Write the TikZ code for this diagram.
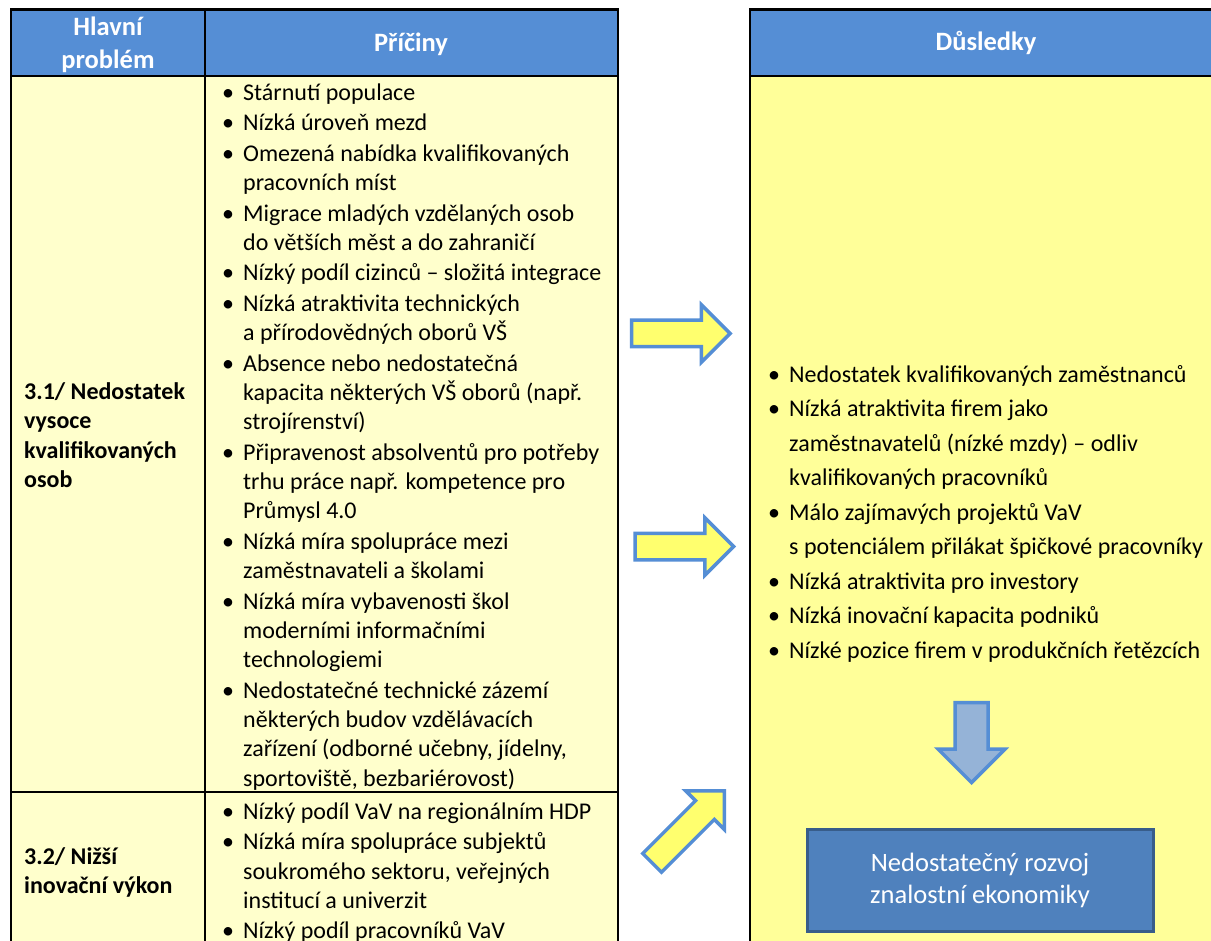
\documentclass[tikz,border=0pt]{standalone}
\usepackage{fontspec}
\setmainfont{Carlito}
\usepackage{xcolor}
\usepackage{tikz}
\usetikzlibrary{shapes.arrows}
\definecolor{headblue}{HTML}{558ED5}
\definecolor{paleyellow}{HTML}{FFFFCC}
\definecolor{effectyellow}{HTML}{FFFF99}
\definecolor{arrowyellow}{HTML}{FFFF6E}
\definecolor{steel}{HTML}{95B3D7}
\definecolor{boxblue}{HTML}{4F81BD}
\definecolor{boxline}{HTML}{385D8A}
\newcommand{\bitem}{\makebox[21pt][l]{\textbullet}}
\newcommand{\bcont}{\hspace*{21pt}}

\begin{document}
\begin{tikzpicture}[
  x=1pt,y=-1pt,
  tabline/.style={draw=black,line width=2.2pt},
  txt/.style={anchor=north west,inner sep=0pt,align=left,
    font=\fontsize{24}{29.3}\selectfont},
  prob/.style={txt,font=\fontsize{24}{29.5}\selectfont\bfseries},
  head/.style={text=white,align=center,inner sep=0pt,
    font=\fontsize{26.5}{33}\selectfont\bfseries},
  effect/.style={txt,font=\fontsize{24}{34.5}\selectfont},
  blockarr/.style={single arrow,draw=headblue,fill=arrowyellow,line width=3.5pt,
    inner sep=0pt,text height=23pt,text depth=0pt,minimum height=98.5pt,
    single arrow head extend=15.5pt,anchor=tip},
  downarr/.style={blockarr,fill=steel,text height=29.5pt,minimum height=80pt,
    single arrow head extend=17pt},
  outbox/.style={draw=boxline,fill=boxblue,line width=3pt,text=white,
    align=center,minimum width=346pt,minimum height=102pt,
    font=\fontsize{26.5}{32}\selectfont}
]
\path[use as bounding box,fill=white] (0,0) rectangle (1211,941);
% left table
\fill[paleyellow] (11,76) rectangle (618,960);
\fill[headblue] (11,9.5) rectangle (618,76);
\draw[tabline] (11,9.5) rectangle (618,960) (205,9.5) -- (205,960)
  (11,76) -- (618,76) (11,792) -- (618,792);
% right table
\fill[effectyellow] (750,76) rectangle (1222,960);
\fill[headblue] (750,9.5) rectangle (1222,76);
\draw[tabline] (750,9.5) rectangle (1222,960) (750,76) -- (1222,76);

\node[head] (hdProb) at (108,45) {Hlavní\\problém};
\node[head] (hdCause) at (411,44) {Příčiny};
\node[head] (hdEffect) at (986,42.5) {Důsledky};

\node[prob] (probA) at (24,378.3) {\strut 3.1/ Nedostatek\\vysoce\\kvalifikovaných\\osob};
\node[prob] (probB) at (24,843.3) {\strut 3.2/ Nižší\\inovační výkon};

\node[txt] (causesA) at (222,79.5) {\strut\bitem Stárnutí populace\\[1.2pt]
  \bitem Nízká úroveň mezd\\[1.2pt]
  \bitem Omezená nabídka kvalifikovaných\\
  \bcont pracovních míst\\[1.2pt]
  \bitem Migrace mladých vzdělaných osob\\
  \bcont do větších měst a do zahraničí\\[1.2pt]
  \bitem Nízký podíl cizinců – složitá integrace\\[1.2pt]
  \bitem Nízká atraktivita technických\\
  \bcont a přírodovědných oborů VŠ\\[1.2pt]
  \bitem Absence nebo nedostatečná\\
  \bcont kapacita některých VŠ oborů (např.\\
  \bcont strojírenství)\\[1.2pt]
  \bitem Připravenost absolventů pro potřeby\\
  \bcont trhu práce např. kompetence pro\\
  \bcont Průmysl 4.0\\[1.2pt]
  \bitem Nízká míra spolupráce mezi\\
  \bcont zaměstnavateli a školami\\[1.2pt]
  \bitem Nízká míra vybavenosti škol\\
  \bcont moderními informačními\\
  \bcont technologiemi\\[1.2pt]
  \bitem Nedostatečné technické zázemí\\
  \bcont některých budov vzdělávacích\\
  \bcont zařízení (odborné učebny, jídelny,\\
  \bcont sportoviště, bezbariérovost)};
\node[txt] (causesB) at (222,798.5) {\strut\bitem Nízký podíl VaV na regionálním HDP\\[1.2pt]
  \bitem Nízká míra spolupráce subjektů\\
  \bcont soukromého sektoru, veřejných\\
  \bcont institucí a univerzit\\[1.2pt]
  \bitem Nízký podíl pracovníků VaV};

\node[effect] (effects) at (768,358) {\strut\bitem Nedostatek kvalifikovaných zaměstnanců\\
  \bitem Nízká atraktivita firem jako\\
  \bcont zaměstnavatelů (nízké mzdy) – odliv\\
  \bcont kvalifikovaných pracovníků\\
  \bitem Málo zajímavých projektů VaV\\
  \bcont s potenciálem přilákat špičkové pracovníky\\
  \bitem Nízká atraktivita pro investory\\
  \bitem Nízká inovační kapacita podniků\\
  \bitem Nízké pozice firem v produkčních řetězcích};

\node[blockarr] (arrA) at (732.5,333.5) {};
\node[blockarr] (arrB) at (736,546.5) {};
\node[blockarr,rotate=45,minimum height=102pt,single arrow head extend=14pt] (arrC) at (726,789) {};
\node[downarr,rotate=-90] (arrDown) at (971.5,785) {};
\node[outbox] (result) at (980,880) {Nedostatečný rozvoj\\znalostní ekonomiky};
\end{tikzpicture}
\end{document}
